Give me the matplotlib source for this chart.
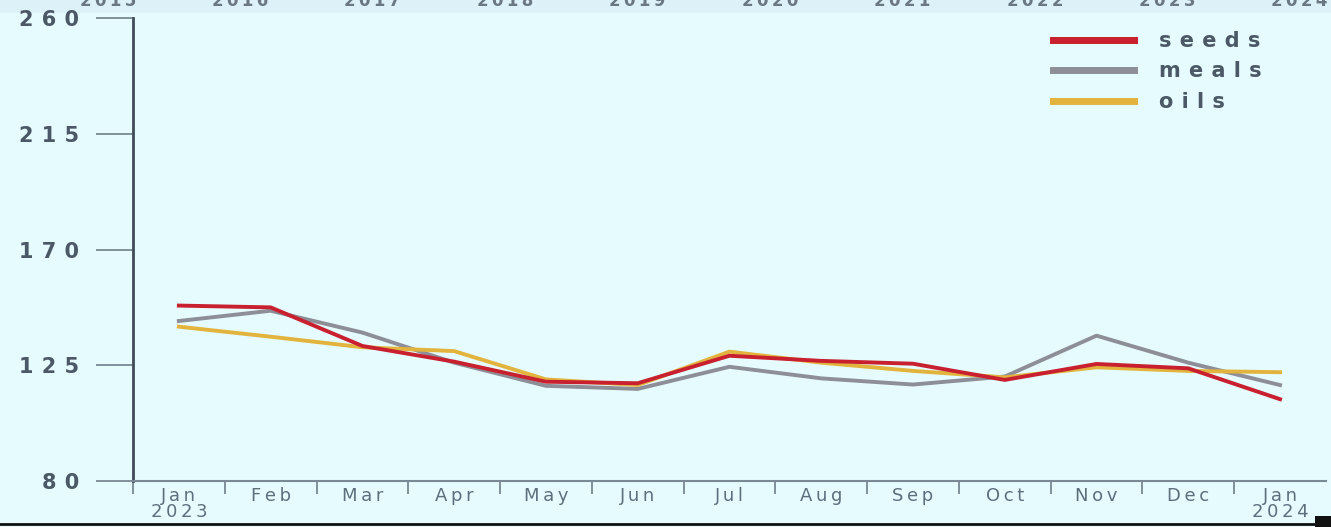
import matplotlib
matplotlib.use("Agg")
import matplotlib.pyplot as plt
from matplotlib.lines import Line2D
from matplotlib.patches import Rectangle

# data
months = ["Jan\n2023", "Feb", "Mar", "Apr", "May", "Jun", "Jul",
          "Aug", "Sep", "Oct", "Nov", "Dec", "Jan\n2024"]
seeds = [148.2, 147.5, 132.5, 126.4, 118.6, 118.0, 128.7, 126.7, 125.6, 119.3, 125.5, 123.8, 111.8]
meals = [142.2, 146.2, 137.7, 126.0, 117.0, 115.8, 124.4, 119.9, 117.5, 120.6, 136.5, 126.0, 117.3]
oils = [140.0, 136.1, 132.0, 130.5, 119.5, 117.3, 130.3, 126.0, 122.8, 120.3, 124.2, 122.8, 122.3]
yticks = [80, 125, 170, 215, 260]
top_years = ["2015", "2016", "2017", "2018", "2019", "2020", "2021", "2022", "2023", "2024"]

bg = "#e6fbfd"
txt = "#4b5966"


def track(s, gap="\u2009"):
    # fake the wide letter spacing of the original font
    return "\n".join(gap.join(line) for line in s.split("\n"))


fig = plt.figure(figsize=(13.31, 5.27), dpi=100, facecolor=bg)
ax = fig.add_axes([0.0999, 0.0873, 0.8963, 0.8785], facecolor=bg)

x = list(range(len(months)))
ax.plot(x, meals, color="#8d8e97", lw=2.8, label="meals", zorder=2)
ax.plot(x, oils, color="#e2b43e", lw=2.8, label="oils", zorder=3)
ax.plot(x, seeds, color="#c8202e", lw=2.8, label="seeds", zorder=4)

ax.set_xlim(-0.5, len(months) - 0.5)
ax.set_ylim(80, 260)
ax.set_yticks(yticks)
ax.set_yticklabels([track(str(v), "\u2009\u2009") for v in yticks],
                   fontsize=15, fontweight="bold", color=txt)
ax.tick_params(axis="y", length=27, width=1.2, color="#6f7f8a", pad=12)

ax.set_xticks(x)
ax.set_xticklabels([track(m) for m in months], fontsize=13, color="#5d6f7d",
                   linespacing=0.88)
ax.set_xticks([i - 0.5 for i in x], minor=True)
ax.tick_params(axis="x", which="major", length=0, pad=4)
ax.tick_params(axis="x", which="minor", length=9, width=1.2, color="#6f7f8a")

for s in ["top", "right"]:
    ax.spines[s].set_visible(False)
ax.spines["left"].set_color("#3e4c58")
ax.spines["left"].set_linewidth(2)
ax.spines["bottom"].set_color("#7a8a94")
ax.spines["bottom"].set_linewidth(1.5)

# legend order as in reference
handles, labels = ax.get_legend_handles_labels()
order = [labels.index("seeds"), labels.index("meals"), labels.index("oils")]
leg = ax.legend([Line2D([0], [0], color=handles[i].get_color(), lw=5) for i in order],
                [track(labels[i], "\u2009\u2009") for i in order],
                loc="upper left", bbox_to_anchor=(0.771, 0.972), frameon=False,
                borderpad=0, borderaxespad=0,
                handlelength=3.9, handletextpad=1.2, labelspacing=0.5,
                prop={"size": 15, "weight": "bold"})
for t in leg.get_texts():
    t.set_color(txt)

# cut off year strip at top
fig.add_artist(Rectangle((0, 0.975), 1, 0.03, transform=fig.transFigure,
                         facecolor="#ddf2f8", edgecolor="none", zorder=0))
for i, yr in enumerate(top_years):
    fig.text(0.081 + i * 0.0995, 0.998, track(yr), ha="center", va="center",
             fontsize=12, fontweight="bold", color="#6a7884")

# dark rule along the bottom
fig.add_artist(Line2D([0, 1], [0.006, 0.006], transform=fig.transFigure,
                      color="#111111", lw=2))
fig.add_artist(Rectangle((0.988, 0), 0.012, 0.02, transform=fig.transFigure,
                         facecolor="#111111", edgecolor="none"))

fig.savefig("out.png", dpi=100, facecolor=bg)
